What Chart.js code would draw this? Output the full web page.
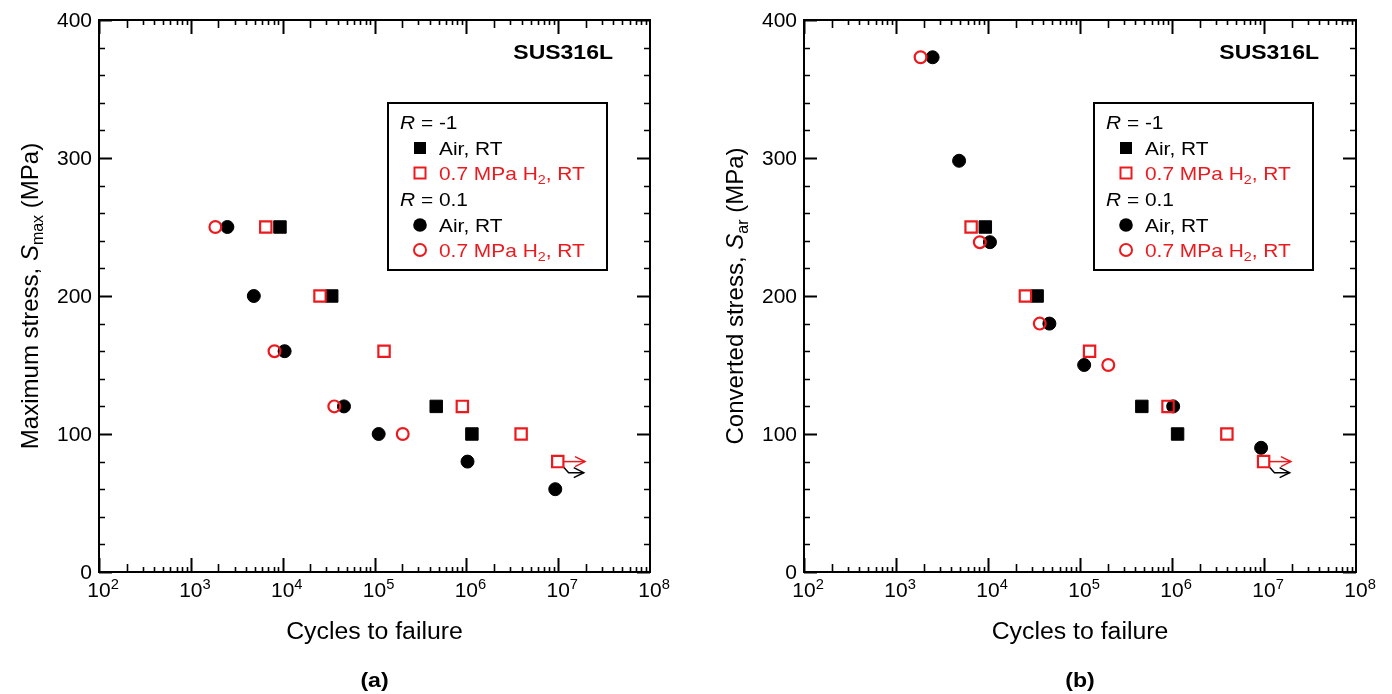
<!DOCTYPE html>
<html><head><meta charset="utf-8">
<script src="https://cdn.jsdelivr.net/npm/chart.js@4.4.0/dist/chart.umd.min.js"></script>
<style>
html,body{margin:0;padding:0;background:#fff;}
#wrap{position:relative;width:1392px;height:694px;background:#fff;}
canvas{position:absolute;top:0;}
#ca{left:0;} #cb{left:696px;}
</style></head><body>
<div id="wrap"><canvas id="ca" width="696" height="694"></canvas><canvas id="cb" width="696" height="694"></canvas></div>
<script>
// ---------------- data ----------------
const xTickExponents = [2, 3, 4, 5, 6, 7, 8];
const yTickValues = [0, 100, 200, 300, 400];
const panelLabels = ['(a)', '(b)'];
const materialLabel = 'SUS316L';

// R = -1, air, RT (filled squares)
const nR1Air = [9350, 34200, 470000, 1150000];
const smaxR1Air = [250, 200, 120, 100];
const sarR1Air = [250, 200, 120, 100];

// R = -1, 0.7 MPa H2, RT (open squares)
const nR1H2 = [6550, 25500, 127000, 905000, 3950000, 9900000];
const smaxR1H2 = [250, 200, 160, 120, 100, 80];
const sarR1H2 = [250, 200, 160, 120, 100, 80];

// R = 0.1, air, RT (filled circles)
const nR01Air = [2500, 4850, 10500, 46500, 111000, 1030000, 9300000];
const smaxR01Air = [250, 200, 160, 120, 100, 80, 60];
const sarR01Air = [373, 298, 239, 180, 150, 120, 90];

// R = 0.1, 0.7 MPa H2, RT (open circles)
const nR01H2 = [1850, 8150, 36500, 203000];
const smaxR01H2 = [250, 160, 120, 100];
const sarR01H2 = [373, 239, 180, 150];

// run-out arrows
const arrowRedN = [1.15e7, 1.96e7];
const arrowRedS = [80, 80];
const arrowBlackN = [1.13e7, 1.30e7, 1.90e7];
const arrowBlackS = [76.5, 72, 72];

const RED = '#ec1a1f';
const FONT = '"Liberation Sans", Arial, sans-serif';
const SX = 1.1;

function pts(xs, ys) { return xs.map((x, i) => ({x: x, y: ys[i]})); }

function runsWidth(ctx, runs, sx) {
  let w = 0;
  for (const r of runs) { ctx.font = r.font; w += ctx.measureText(r.t).width * sx; }
  return w;
}
function drawRuns(ctx, runs, x, y, align, sx) {
  const w = runsWidth(ctx, runs, sx);
  let cx = align === 'center' ? x - w / 2 : (align === 'right' ? x - w : x);
  for (const r of runs) {
    ctx.save();
    ctx.font = r.font;
    ctx.fillStyle = r.color || '#000';
    ctx.textAlign = 'left';
    ctx.textBaseline = 'alphabetic';
    ctx.translate(cx, y + (r.dy || 0));
    ctx.scale(sx, 1);
    ctx.fillText(r.t, 0, 0);
    ctx.restore();
    ctx.font = r.font;
    cx += ctx.measureText(r.t).width * sx;
  }
  return w;
}

function makeDecor(cfg) {
  return {
    id: 'decor' + cfg.panel,
    afterDatasetsDraw(chart) {
      const ctx = chart.ctx;
      const a = chart.chartArea;
      const xs = chart.scales.x, ys = chart.scales.y;
      ctx.save();
      // arrowheads for run-out lines
      chart.data.datasets.forEach((ds, di) => {
        if (!ds.arrowHead) return;
        const meta = chart.getDatasetMeta(di);
        const n = meta.data.length;
        const p1 = meta.data[n - 2], p2 = meta.data[n - 1];
        const ang = Math.atan2(p2.y - p1.y, p2.x - p1.x);
        const L = 10, H = 5;
        ctx.strokeStyle = ds.borderColor; ctx.lineWidth = 1.5;
        ctx.beginPath();
        ctx.moveTo(p2.x - L * Math.cos(ang) + H * Math.sin(ang), p2.y - L * Math.sin(ang) - H * Math.cos(ang));
        ctx.lineTo(p2.x, p2.y);
        ctx.lineTo(p2.x - L * Math.cos(ang) - H * Math.sin(ang), p2.y - L * Math.sin(ang) + H * Math.cos(ang));
        ctx.stroke();
      });

      // frame
      ctx.strokeStyle = '#000';
      ctx.lineWidth = 2;
      ctx.strokeRect(a.left, a.top, a.right - a.left, a.bottom - a.top);

      // x ticks (log)
      ctx.lineCap = 'butt';
      for (let e = xTickExponents[0]; e < xTickExponents[xTickExponents.length - 1]; e++) {
        for (let m = 1; m <= 9; m++) {
          const px = Math.round(xs.getPixelForValue(m * Math.pow(10, e))) + 0.5;
          const len = m === 1 ? 14 : (m === 2 ? 8 : 5);
          ctx.lineWidth = m === 1 ? 2 : 1.6;
          ctx.beginPath();
          ctx.moveTo(px, a.bottom); ctx.lineTo(px, a.bottom - len);
          ctx.moveTo(px, a.top); ctx.lineTo(px, a.top + len);
          ctx.stroke();
        }
      }
      // y ticks
      for (let v = 0; v <= 400; v += 20) {
        const py = Math.round(ys.getPixelForValue(v)) + 0.5;
        const len = v % 100 === 0 ? 13 : 6;
        ctx.lineWidth = v % 100 === 0 ? 2 : 1.6;
        ctx.beginPath();
        ctx.moveTo(a.left, py); ctx.lineTo(a.left + len, py);
        ctx.moveTo(a.right, py); ctx.lineTo(a.right - len, py);
        ctx.stroke();
      }

      // y tick labels
      yTickValues.forEach(v => {
        const py = ys.getPixelForValue(v);
        drawRuns(ctx, [{t: String(v), font: '20px ' + FONT}], a.left - 7, py + 7, 'right', 1.05);
      });
      // x tick labels 10^n
      xTickExponents.forEach(e => {
        const px = xs.getPixelForValue(Math.pow(10, e));
        ctx.font = '20px ' + FONT;
        const w10 = ctx.measureText('10').width * 1.05;
        drawRuns(ctx, [{t: '10', font: '20px ' + FONT}, {t: String(e), font: '14px ' + FONT, dy: -8}], px - w10 / 2, a.bottom + 25, 'left', 1.05);
      });

      // x title
      drawRuns(ctx, [{t: 'Cycles to failure', font: '23px ' + FONT}], (a.left + a.right) / 2, a.bottom + 67, 'center', 1.08);
      // panel label
      drawRuns(ctx, [{t: cfg.panel, font: 'bold 21px ' + FONT}], (a.left + a.right) / 2, a.bottom + 115, 'center', SX);

      // y title (rotated)
      ctx.save();
      ctx.translate(cfg.yTitleX, (a.top + a.bottom) / 2);
      ctx.rotate(-Math.PI / 2);
      drawRuns(ctx, cfg.yTitleRuns, 0, 0, 'center', 1);
      ctx.restore();

      // material label
      drawRuns(ctx, [{t: materialLabel, font: 'bold 20px ' + FONT}], a.right - 37, a.top + 39, 'right', 1.15);

      // legend box
      const bw = 219, bh = 167;
      const bx = a.right - 43 - bw, by = a.top + 83;
      ctx.lineWidth = 2; ctx.strokeStyle = '#000';
      ctx.strokeRect(bx, by, bw, bh);
      const f = '19px ' + FONT, fi = 'italic 19px ' + FONT, fs = '13px ' + FONT;
      const base = [26, 52, 77, 103, 129, 154].map(d => by + d);
      const tx = bx + 51, mx = bx + 32;
      drawRuns(ctx, [{t: 'R', font: fi}, {t: ' = -1', font: f}], bx + 12, base[0], 'left', SX);
      drawRuns(ctx, [{t: 'R', font: fi}, {t: ' = 0.1', font: f}], bx + 12, base[3], 'left', SX);
      const h2 = [{t: '0.7 MPa H', font: f, color: RED}, {t: '2', font: fs, dy: 4, color: RED}, {t: ', RT', font: f, color: RED}];
      drawRuns(ctx, [{t: 'Air, RT', font: f}], tx, base[1], 'left', SX);
      drawRuns(ctx, h2, tx, base[2], 'left', SX);
      drawRuns(ctx, [{t: 'Air, RT', font: f}], tx, base[4], 'left', SX);
      drawRuns(ctx, h2, tx, base[5], 'left', SX);
      // legend markers
      ctx.fillStyle = '#000';
      ctx.fillRect(mx - 6, base[1] - 13, 12, 12);
      ctx.strokeStyle = RED; ctx.lineWidth = 2;
      ctx.strokeRect(mx - 5.5, base[2] - 12.5, 11, 11);
      ctx.beginPath(); ctx.arc(mx, base[4] - 7, 6.8, 0, Math.PI * 2); ctx.fillStyle = '#000'; ctx.fill();
      ctx.beginPath(); ctx.arc(mx, base[5] - 7, 6, 0, Math.PI * 2); ctx.stroke();
      ctx.restore();
    }
  };
}

function datasets(yR1Air, yR1H2, yR01Air, yR01H2) {
  return [
    {label: 'R=-1 H2', data: pts(nR1H2, yR1H2), pointStyle: 'rect', pointRadius: 8, borderWidth: 2.2, borderColor: RED, backgroundColor: 'rgba(0,0,0,0)', order: 0},
    {label: 'R=0.1 H2', data: pts(nR01H2, yR01H2), pointStyle: 'circle', pointRadius: 5.9, borderWidth: 2.2, borderColor: RED, backgroundColor: 'rgba(0,0,0,0)', order: 0},
    {label: 'R=-1 Air', data: pts(nR1Air, yR1Air), pointStyle: 'rect', pointRadius: 8.8, borderWidth: 1, borderColor: '#000', backgroundColor: '#000', order: 1},
    {label: 'R=0.1 Air', data: pts(nR01Air, yR01Air), pointStyle: 'circle', pointRadius: 6.5, borderWidth: 1, borderColor: '#000', backgroundColor: '#000', order: 1},
    {label: 'runout H2', data: pts(arrowRedN, arrowRedS), showLine: true, pointRadius: 0, borderWidth: 1.5, borderColor: RED, arrowHead: true, order: 2},
    {label: 'runout Air', data: pts(arrowBlackN, arrowBlackS), showLine: true, pointRadius: 0, borderWidth: 1.5, borderColor: '#000', arrowHead: true, order: 2}
  ];
}

function makeChart(id, ds, padding, decor) {
  return new Chart(document.getElementById(id), {
    type: 'scatter',
    data: {datasets: ds},
    options: {
      responsive: false, animation: false, devicePixelRatio: 1, events: [],
      layout: {padding: padding},
      plugins: {legend: {display: false}, tooltip: {enabled: false}},
      scales: {
        x: {type: 'logarithmic', min: 1e2, max: 1e8, display: false},
        y: {type: 'linear', min: 0, max: 400, display: false}
      }
    },
    plugins: [decor]
  });
}

const fT = '24px ' + FONT, fTi = 'italic 24px ' + FONT, fTs = '16px ' + FONT;
makeChart('ca', datasets(smaxR1Air, smaxR1H2, smaxR01Air, smaxR01H2),
  {left: 99, right: 46, top: 20, bottom: 122},
  makeDecor({panel: panelLabels[0], yTitleX: 38,
    yTitleRuns: [{t: 'Maximum stress, ', font: fT}, {t: 'S', font: fTi}, {t: 'max', font: fTs, dy: 5}, {t: ' (MPa)', font: fT}]}));
makeChart('cb', datasets(sarR1Air, sarR1H2, sarR01Air, sarR01H2),
  {left: 108, right: 36, top: 20, bottom: 122},
  makeDecor({panel: panelLabels[1], yTitleX: 47,
    yTitleRuns: [{t: 'Converted stress, ', font: fT}, {t: 'S', font: fTi}, {t: 'ar', font: fTs, dy: 5}, {t: ' (MPa)', font: fT}]}));
</script>
</body></html>
